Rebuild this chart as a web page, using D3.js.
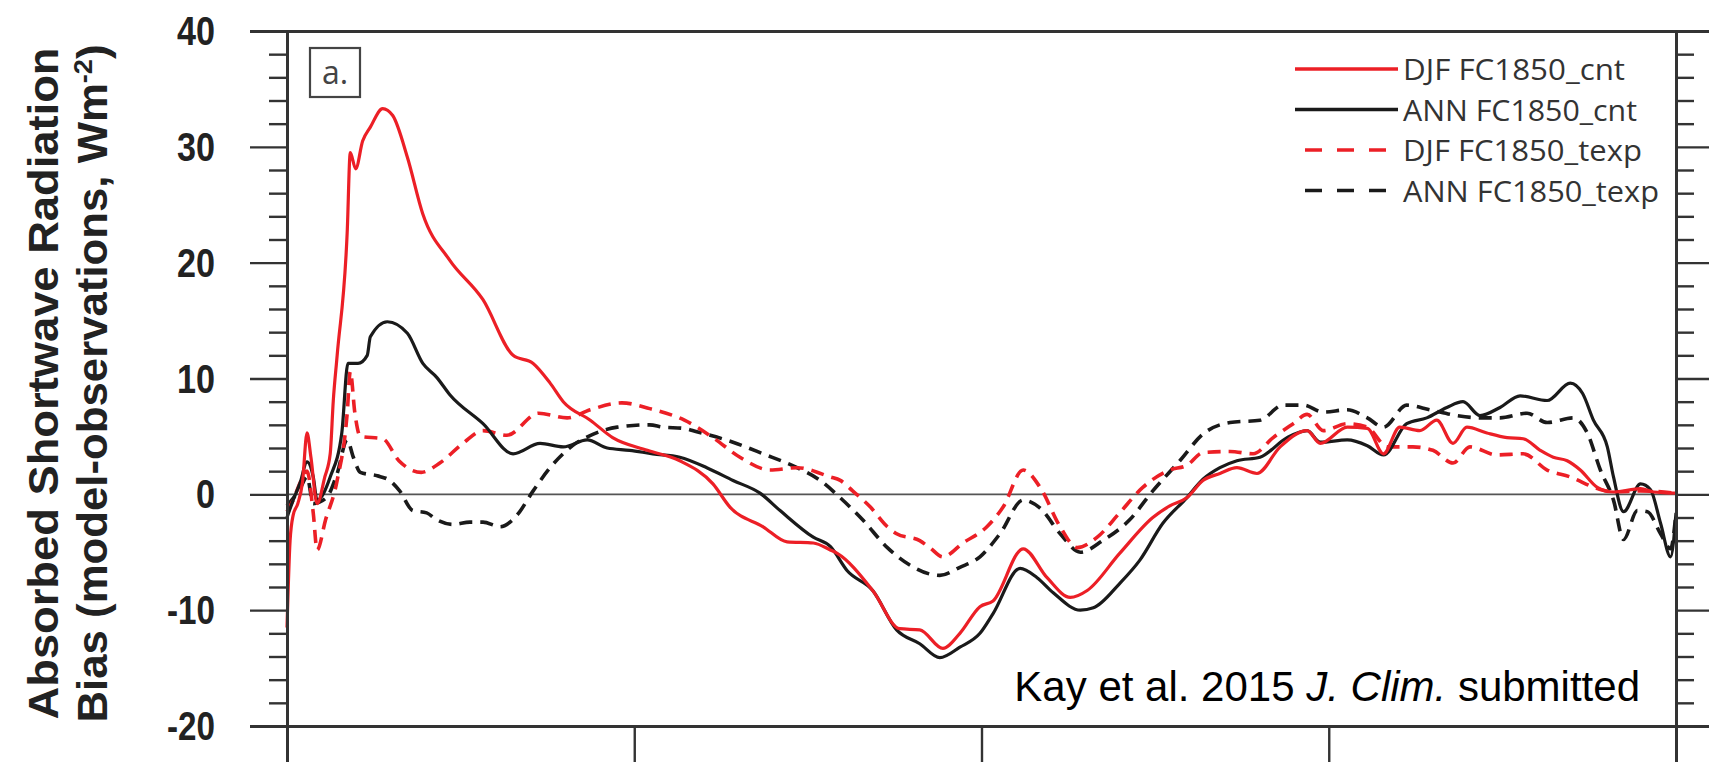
<!DOCTYPE html>
<html>
<head>
<meta charset="utf-8">
<script src="https://cdn.jsdelivr.net/npm/d3@7"></script>
<style>
  html, body { margin: 0; padding: 0; background: #fff; }
  svg { display: block; }
</style>
</head>
<body>
<svg id="chart" width="1709" height="766"></svg>
<script>
// ---------------- DATA ----------------
const seriesNames = ["DJF FC1850_cnt", "ANN FC1850_cnt", "DJF FC1850_texp", "ANN FC1850_texp"];
const xTicks = [-90, -45, 0, 45, 90];
const yMajorTicks = [-20, -10, 0, 10, 20, 30, 40];
const yMinorTicks = [-18, -16, -14, -12, -8, -6, -4, -2, 2, 4, 6, 8, 12, 14, 16, 18, 22, 24, 26, 28, 32, 34, 36, 38];
const panelLabel = "a.";
const yTitle1 = "Absorbed Shortwave Radiation";
const yTitle2 = "Bias (model-observations, Wm";
const citation = ["Kay et al. 2015 ", "J. Clim.", " submitted"];

// [latitude, bias W m-2]
const djfCnt = [
  [-90, -11.5], [-89.6, -4.0], [-89.2, -1.8], [-88.6, -0.8], [-88.0, 1.0], [-87.4, 5.3], [-86.9, 3.2],
  [-86.1, -0.8], [-85.1, 1.5], [-84.4, 3.5], [-84.0, 8.1], [-83.5, 12.0], [-82.2, 22.6], [-81.8, 29.5],
  [-81.1, 28.1], [-80.2, 30.5], [-79.2, 31.7], [-77.6, 33.3], [-76.3, 32.7], [-74.4, 29.1], [-72.4, 24.2],
  [-68.9, 20.2], [-64.6, 16.8], [-60.7, 12.0], [-58.1, 11.3], [-55.9, 9.6], [-54.2, 8.0], [-50.7, 6.4],
  [-47.8, 4.9], [-43.3, 3.8], [-39.1, 2.9], [-34.8, 0.9], [-32.6, -1.1], [-28.3, -2.8], [-25.2, -4.1],
  [-21.8, -4.2], [-19.6, -4.8], [-18.7, -5.1], [-14.1, -8.3], [-10.6, -11.6], [-8.0, -11.7], [-5.0, -13.3],
  [-2.8, -12.0], [-0.2, -9.7], [1.5, -9.2], [5.4, -4.7], [8.5, -7.2], [11.5, -8.9], [13.7, -8.3],
  [17.9, -5.1], [22.2, -2.0], [24.4, -1.0], [26.6, -0.3], [28.7, 1.2], [30.9, 1.8], [33.1, 2.3],
  [35.7, 1.8], [38.7, 4.1], [42.2, 5.5], [43.9, 4.4], [47.4, 5.8], [50.0, 5.7], [52.1, 3.5], [54.2, 5.8],
  [56.8, 5.5], [59.0, 6.4], [61.1, 4.4], [62.9, 5.8], [65.5, 5.3], [68.1, 4.9], [70.2, 4.8], [72.4, 3.8],
  [74.1, 3.2], [75.9, 2.9], [77.6, 2.1], [79.8, 0.6], [81.9, 0.2], [85.4, 0.5], [87.1, 0.2], [90, 0.1]
];
const annCnt = [
  [-90, -2.0], [-89.2, -0.5], [-88.3, 1.0], [-87.4, 2.8], [-86.6, 1.5], [-86.1, -0.5], [-84.4, 1.5],
  [-82.9, 5.3], [-82.1, 11.3], [-80.8, 11.3], [-79.6, 12.0], [-79.2, 13.6], [-77.0, 14.9], [-74.4, 13.9],
  [-72.4, 11.3], [-70.6, 10.1], [-68.9, 8.6], [-64.6, 6.1], [-60.7, 3.5], [-57.2, 4.4], [-54.2, 4.1],
  [-51.1, 4.7], [-48.5, 4.0], [-45.6, 3.8], [-42.6, 3.5], [-39.1, 3.2], [-35.6, 2.3], [-32.2, 1.2],
  [-28.7, 0.1], [-26.1, -1.4], [-21.8, -3.7], [-19.6, -4.5], [-17.4, -6.6], [-14.1, -8.3], [-11.0, -11.7],
  [-8.0, -12.9], [-5.4, -14.1], [-2.8, -13.2], [-0.2, -12.0], [1.5, -10.3], [5.0, -6.4], [7.2, -7.2],
  [9.3, -8.5], [12.8, -10.0], [14.5, -9.8], [17.9, -7.7], [20.5, -5.7], [23.5, -2.5], [26.6, -0.3],
  [28.7, 1.3], [30.9, 2.3], [33.1, 2.9], [36.1, 3.2], [39.6, 4.9], [42.2, 5.5], [43.9, 4.5], [47.4, 4.7],
  [50.0, 4.2], [52.1, 3.4], [55.1, 6.1], [57.7, 6.6], [60.3, 7.5], [62.4, 8.0], [64.6, 6.8], [67.2, 7.5],
  [69.8, 8.5], [73.3, 8.1], [76.3, 9.6], [77.9, 8.7], [79.3, 6.4], [81.1, 4.1], [81.9, 1.5], [83.2, -1.5],
  [85.4, 0.9], [86.7, 0.4], [88.0, -2.5], [89.3, -5.4], [90, -1.6]
];
const djfTexp = [
  [-90, -1.5], [-89.2, -0.5], [-88.3, 1.0], [-87.4, 2.0], [-86.6, -1.6], [-86.1, -4.8], [-85.0, -2.2],
  [-83.5, 1.2], [-82.2, 7.0], [-81.8, 10.6], [-81.2, 7.0], [-80.5, 5.0], [-77.6, 4.8], [-75.5, 2.9],
  [-72.6, 1.9], [-70.2, 2.7], [-67.2, 4.4], [-64.6, 5.5], [-61.5, 5.1], [-57.4, 7.0], [-53.7, 6.6],
  [-50.7, 7.3], [-46.6, 7.9], [-43.0, 7.4], [-38.5, 6.4], [-34.8, 4.9], [-31.3, 3.2], [-27.4, 2.1],
  [-23.9, 2.3], [-19.6, 1.5], [-18.3, 1.2], [-16.7, 0.3], [-14.4, -1.1], [-12.2, -2.8], [-11.0, -3.4],
  [-8.0, -4.0], [-6.7, -4.6], [-5.0, -5.4], [-2.4, -4.2], [0.7, -2.8], [2.8, -1.1], [5.4, 2.1],
  [7.6, 0.6], [10.2, -2.8], [12.4, -4.6], [15.0, -3.7], [17.9, -1.6], [20.9, 0.6], [24.4, 2.1],
  [26.6, 2.5], [28.7, 3.6], [32.2, 3.7], [35.2, 3.5], [37.8, 4.9], [40.4, 6.1], [42.2, 6.9], [44.3, 5.5],
  [47.4, 6.1], [50.0, 5.8], [52.6, 4.1], [55.9, 4.1], [58.5, 3.8], [61.1, 2.7], [63.3, 4.1], [66.8, 3.4],
  [70.2, 3.5], [73.3, 2.1], [76.3, 1.5], [79.8, 0.5], [81.9, 0.2], [85.4, 0.3], [90, 0.1]
];
const annTexp = [
  [-90, -1.0], [-88.3, 0.5], [-87.4, 1.5], [-86.6, -0.8], [-84.9, -0.3], [-83.5, 1.8], [-82.2, 4.7],
  [-81.4, 3.2], [-80.5, 1.9], [-78.3, 1.6], [-76.7, 1.2], [-75.4, 0.3], [-73.7, -1.4], [-71.9, -1.6],
  [-70.6, -2.2], [-68.5, -2.6], [-66.3, -2.4], [-64.6, -2.4], [-62.4, -2.8], [-60.2, -1.8], [-58.1, 0.3],
  [-55.9, 2.3], [-53.0, 4.2], [-50.3, 5.2], [-47.2, 5.8], [-43.0, 6.0], [-41.3, 5.8], [-38.7, 5.7],
  [-36.9, 5.4], [-32.2, 4.5], [-28.3, 3.5], [-23.9, 2.3], [-20.9, 1.2], [-18.3, -0.3], [-15.4, -2.2],
  [-12.2, -4.6], [-9.3, -6.1], [-5.4, -7.0], [-2.8, -6.3], [-0.2, -5.4], [2.4, -3.4], [5.4, -0.5],
  [7.6, -1.2], [10.2, -3.4], [12.8, -5.0], [15.7, -4.0], [19.2, -2.2], [22.2, 0.3], [25.7, 2.9],
  [28.7, 5.2], [32.2, 6.2], [36.1, 6.4], [39.1, 7.7], [41.7, 7.7], [44.3, 7.1], [47.4, 7.3], [50.0, 6.6],
  [52.1, 5.8], [55.1, 7.7], [58.1, 7.3], [61.6, 6.8], [64.6, 6.6], [67.2, 6.6], [70.7, 7.0], [73.3, 6.2],
  [76.7, 6.6], [78.5, 5.3], [80.2, 2.1], [81.9, -0.5], [83.2, -3.9], [85.0, -1.4], [86.3, -1.5],
  [88.0, -3.4], [89.3, -4.7], [90, -1.6]
];

// ---------------- LAYOUT ----------------
const svg = d3.select("#chart");
const L = 287, R = 1676, T = 31, B = 726;
const RED = "#ec1f26", BLACK = "#1a1a1a", AXIS = "#333";

const x = d3.scaleLinear().domain([-90, 90]).range([L, R]);
const y = d3.scaleLinear().domain([-20, 40]).range([B, T]);

// zero line
svg.append("line")
  .attr("x1", L).attr("x2", R).attr("y1", y(0)).attr("y2", y(0))
  .attr("stroke", "#555").attr("stroke-width", 1.6);

// lines
const line = d3.line().x(d => x(d[0])).y(d => y(d[1])).curve(d3.curveMonotoneX);
const series = [
  { data: annTexp, color: BLACK, dash: "13,8", w: 3.6 },
  { data: djfTexp, color: RED, dash: "13,8", w: 3.6 },
  { data: annCnt, color: BLACK, dash: null, w: 3.2 },
  { data: djfCnt, color: RED, dash: null, w: 3.2 }
];
svg.append("g").selectAll("path").data(series).join("path")
  .attr("d", d => line(d.data))
  .attr("fill", "none")
  .attr("stroke", d => d.color)
  .attr("stroke-width", d => d.w)
  .attr("stroke-linejoin", "round")
  .attr("stroke-dasharray", d => d.dash);

// axes
const fmt = d => String(d);
const gL = svg.append("g").attr("transform", `translate(${L},0)`)
  .call(d3.axisLeft(y).tickValues(yMajorTicks).tickSize(37).tickPadding(35).tickFormat(fmt));
const gLm = svg.append("g").attr("transform", `translate(${L},0)`)
  .call(d3.axisLeft(y).tickValues(yMinorTicks).tickSize(18).tickFormat(""));
const gR = svg.append("g").attr("transform", `translate(${R},0)`)
  .call(d3.axisRight(y).tickValues(yMajorTicks).tickSize(37).tickFormat(""));
const gRm = svg.append("g").attr("transform", `translate(${R},0)`)
  .call(d3.axisRight(y).tickValues(yMinorTicks).tickSize(18).tickFormat(""));
const gB = svg.append("g").attr("transform", `translate(0,${B})`)
  .call(d3.axisBottom(x).tickValues(xTicks).tickSize(36).tickFormat(""));
const gT = svg.append("g").attr("transform", `translate(0,${T})`)
  .call(d3.axisTop(x).tickValues([]).tickSize(0).tickFormat(""));

[gL, gLm, gR, gRm, gB, gT].forEach(g => {
  g.select(".domain").attr("stroke", AXIS).attr("stroke-width", 3);
  g.selectAll(".tick line").attr("stroke", AXIS).attr("stroke-width", 2.4);
});
gL.selectAll(".tick text")
  .attr("font-family", "'Liberation Sans', Arial, sans-serif")
  .attr("font-weight", "bold").attr("font-size", 40).attr("fill", "#222")
  .attr("dy", "0.34em")
  .attr("textLength", d => (d < 0 ? 48 : (String(d).length * 19)))
  .attr("lengthAdjust", "spacingAndGlyphs");

// y title
const yt = svg.append("g").attr("font-family", "'Liberation Sans', Arial, sans-serif")
  .attr("font-weight", "bold").attr("font-size", 42).attr("fill", "#222");
yt.append("text")
  .attr("transform", `translate(58,${(T + B) / 2 + 5}) rotate(-90)`)
  .attr("text-anchor", "middle")
  .attr("textLength", 672).attr("lengthAdjust", "spacingAndGlyphs")
  .text(yTitle1);
const t2 = yt.append("text")
  .attr("transform", `translate(107,${(T + B) / 2 + 5}) rotate(-90)`)
  .attr("text-anchor", "middle")
  .attr("textLength", 678).attr("lengthAdjust", "spacingAndGlyphs");
t2.append("tspan").text(yTitle2);
t2.append("tspan").attr("dy", -15).attr("font-size", 26).text("-2");
t2.append("tspan").attr("dy", 15).text(")");

// panel label
svg.append("rect").attr("x", 310).attr("y", 48).attr("width", 50).attr("height", 49)
  .attr("fill", "none").attr("stroke", "#444").attr("stroke-width", 2.2);
svg.append("text").attr("x", 335).attr("y", 84).attr("text-anchor", "middle")
  .attr("font-family", "'Open Sans', 'Liberation Sans', sans-serif").attr("font-size", 32)
  .attr("fill", "#444").text(panelLabel);

// legend
const legendStyles = [
  { color: RED, dash: null }, { color: BLACK, dash: null },
  { color: RED, dash: "17,15" }, { color: BLACK, dash: "17,15" }
];
const lg = svg.append("g");
seriesNames.forEach((name, i) => {
  const yy = 69 + i * 40.5;
  lg.append("line").attr("x1", legendStyles[i].dash ? 1305 : 1295).attr("x2", 1398)
    .attr("y1", yy).attr("y2", yy)
    .attr("stroke", legendStyles[i].color).attr("stroke-width", 3.4)
    .attr("stroke-dasharray", legendStyles[i].dash);
  lg.append("text").attr("x", 1403).attr("y", yy + 11)
    .attr("font-family", "'Open Sans', 'Liberation Sans', sans-serif").attr("font-size", 30)
    .attr("fill", "#333").attr("textLength", 222 + (i === 1 ? 12 : 0) + (i === 2 ? 17 : 0) + (i === 3 ? 34 : 0))
    .attr("lengthAdjust", "spacingAndGlyphs")
    .text(name);
});

// citation
const ct = svg.append("text").attr("x", 1640).attr("y", 701).attr("text-anchor", "end")
  .attr("font-family", "'Liberation Sans', Arial, sans-serif").attr("font-size", 42).attr("fill", "#000");
ct.append("tspan").text(citation[0]);
ct.append("tspan").attr("font-style", "italic").text(citation[1]);
ct.append("tspan").text(citation[2]);
</script>
</body>
</html>
